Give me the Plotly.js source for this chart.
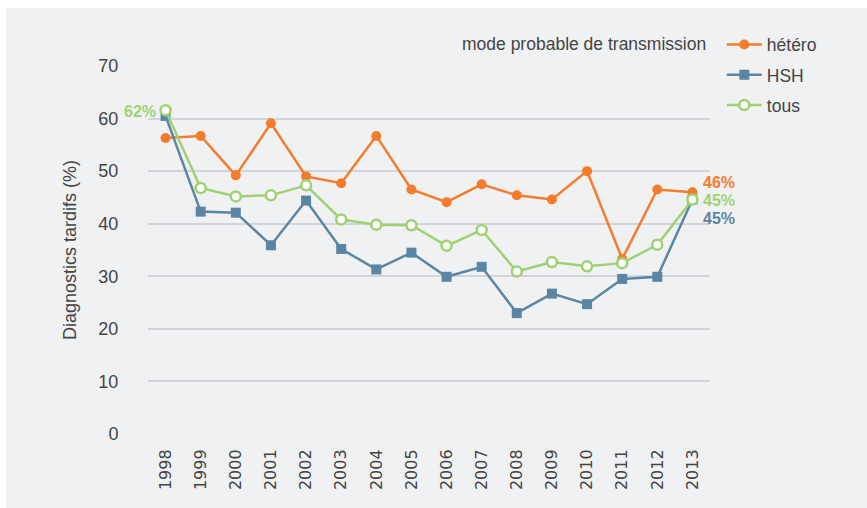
<!DOCTYPE html>
<html><head><meta charset="utf-8">
<script src="https://cdn.plot.ly/plotly-3.0.1.min.js"></script>
<style>
html,body{margin:0;padding:0;background:#ffffff;}
#chart{position:absolute;left:6px;top:8px;width:861px;height:500px;}
</style></head>
<body><div id="chart"></div>
<script>
const years = ['1998','1999','2000','2001','2002','2003','2004','2005','2006','2007','2008','2009','2010','2011','2012','2013'];
const hetero = [56.3,56.7,49.2,59.1,49.0,47.7,56.7,46.5,44.1,47.5,45.4,44.6,50.0,33.3,46.5,46.0];
const hsh    = [60.5,42.3,42.1,35.9,44.4,35.2,31.3,34.5,29.9,31.8,23.0,26.7,24.7,29.5,29.9,44.6];
const tous   = [61.6,46.8,45.2,45.4,47.3,40.8,39.8,39.7,35.8,38.8,30.9,32.7,31.9,32.5,36.0,44.6];
const seriesNames = ['hétéro','HSH','tous'];
const yTicks = [0,10,20,30,40,50,60,70];
const legendTitle = 'mode probable de transmission';
const yTitle = 'Diagnostics tardifs (%)';

const cOrange = '#f47c2c', cBlue = '#5a86a3', cGreen = '#9fd174';
const ff = '"Liberation Sans", Arial, sans-serif';

const traces = [
  {x: years, y: hetero, name: seriesNames[0], type:'scatter', mode:'lines+markers', legendgroup:'a',
   line:{color:cOrange, width:2.5}, marker:{symbol:'circle', size:10, color:cOrange}},
  {x: years, y: hsh, name: seriesNames[1], type:'scatter', mode:'lines+markers', legendgroup:'b',
   line:{color:cBlue, width:2.5}, marker:{symbol:'square', size:10, color:cBlue}},
  {x: years, y: tous, name: seriesNames[2], type:'scatter', mode:'lines+markers', legendgroup:'c',
   line:{color:cGreen, width:2.5}, marker:{symbol:'circle', size:10, color:'#ffffff', line:{color:cGreen, width:2.5}}}
];

const last = years.length - 1;
const pct = v => Math.round(v) + '%';
const bold = (c) => ({family:ff, size:16, color:c, weight:'bold'});
const annotations = [
  {xref:'paper', yref:'paper', x:0.9964, y:1.0598, xanchor:'right', yanchor:'middle', showarrow:false,
   text: legendTitle, font:{family:ff, size:17.5, color:'#444'}},
  {x: 0, y: tous[0], xref:'x', yref:'y', xanchor:'right', yanchor:'middle', xshift:-8, yshift:-1, showarrow:false,
   text: pct(tous[0]), font: bold(cGreen)},
  {x: last, y: hetero[last], xref:'x', yref:'y', xanchor:'left', yanchor:'middle', xshift:10, yshift:10, showarrow:false,
   borderpad:0, text: pct(hetero[last]), font: bold(cOrange)},
  {x: last, y: tous[last], xref:'x', yref:'y', xanchor:'left', yanchor:'middle', xshift:10, yshift:-0.5, showarrow:false,
   borderpad:0, text: pct(tous[last]), font: bold(cGreen)},
  {x: last, y: hsh[last], xref:'x', yref:'y', xanchor:'left', yanchor:'middle', xshift:10, yshift:-18.5, showarrow:false,
   borderpad:0, text: pct(hsh[last]), font: bold(cBlue)}
];

const layout = {
  width: 861, height: 500,
  paper_bgcolor:'#f0f1f3', plot_bgcolor:'#f0f1f3',
  margin:{l:142, r:157, t:58, b:74},
  showlegend:true,
  legend:{x:1.021, y:1.107, xanchor:'left', yanchor:'top', bgcolor:'rgba(0,0,0,0)',
    font:{family:ff, size:17.5, color:'#444'}, itemwidth:35, tracegroupgap:4.5, traceorder:'grouped'},
  xaxis:{type:'category', range:[-0.5,15.5], showgrid:false, zeroline:false, showline:false,
    tickangle:-90, ticks:'outside', ticklen:8, tickcolor:'rgba(0,0,0,0)',
    tickfont:{family:'DejaVu Sans', size:16, color:'#444'}},
  yaxis:{range:[0,70], tickvals:yTicks, showgrid:true, gridcolor:'#d3d4d7', gridwidth:2, zeroline:false, showline:false,
    ticks:'outside', ticklen:25, tickcolor:'rgba(0,0,0,0)',
    tickfont:{family:ff, size:18, color:'#444'},
    title:{text:yTitle, standoff:17, font:{family:ff, size:18, color:'#444'}}},
  annotations: annotations
};
Plotly.newPlot('chart', traces, layout, {displayModeBar:false, staticPlot:true});
</script></body></html>
